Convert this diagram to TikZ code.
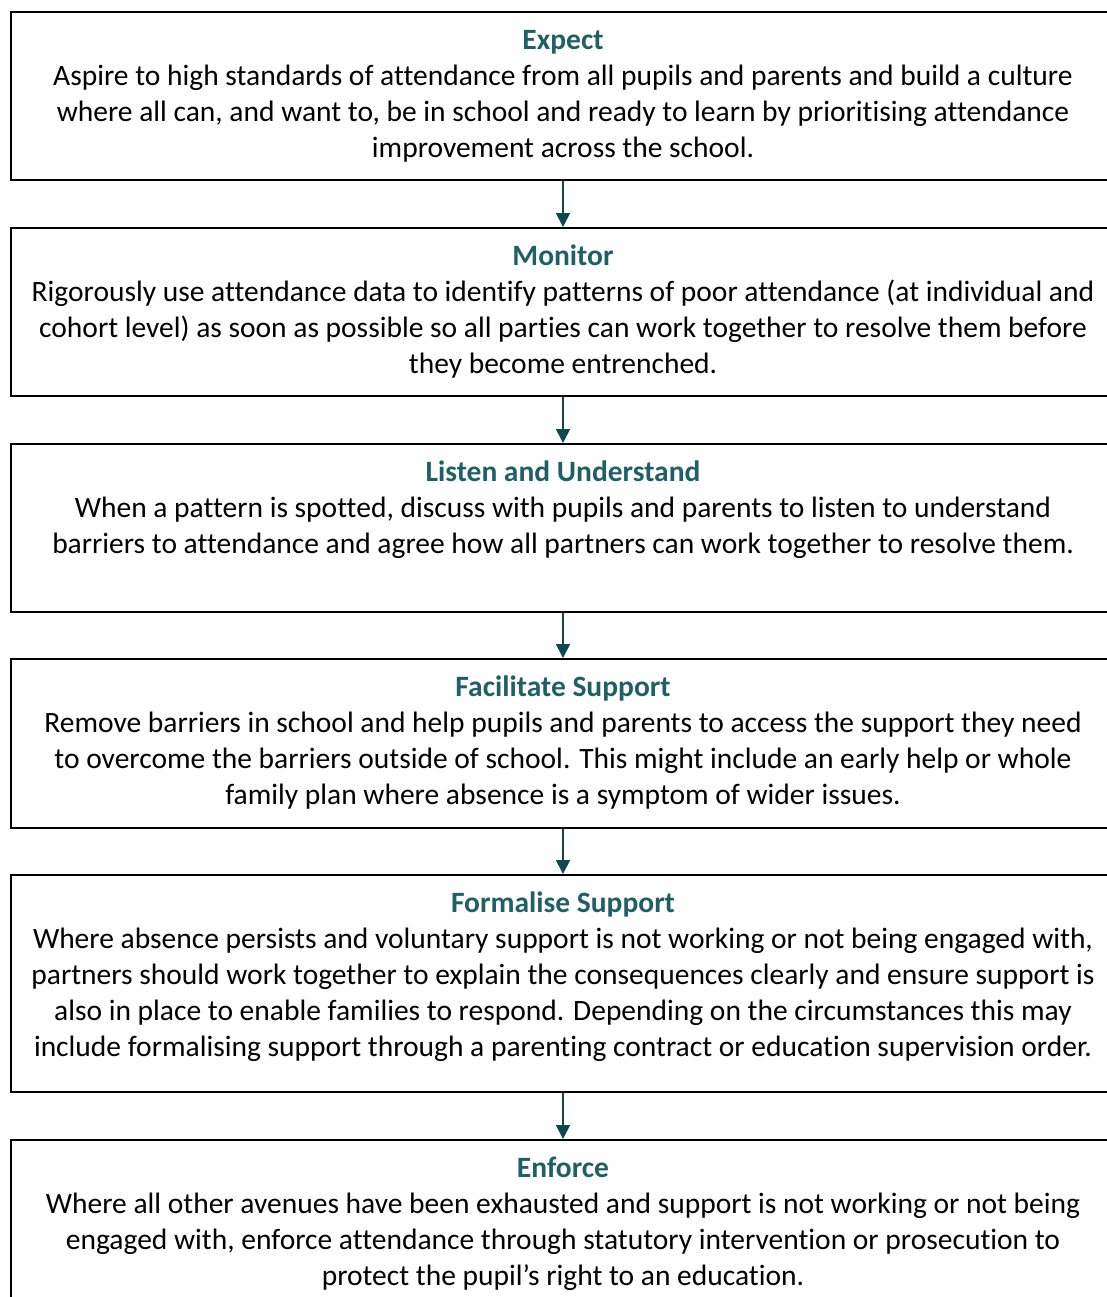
\documentclass[tikz,border=0pt]{standalone}
\usepackage{fontspec}
\setmainfont[Ligatures=NoCommon]{Carlito}
\usetikzlibrary{arrows.meta}
\definecolor{titleteal}{RGB}{31,95,102}
\definecolor{arrowteal}{RGB}{14,72,82}
\begin{document}
\begin{tikzpicture}[x=0.5pt,y=-0.5pt,
  stagebox/.style={draw=black,line width=1pt,rectangle,minimum width=552pt,inner sep=0pt,anchor=north},
  stagetext/.style={anchor=north,inner sep=0pt,align=center,font=\fontsize{14.75}{18}\selectfont},
  flowarrow/.style={draw=arrowteal,line width=0.8pt,-{Triangle[length=7pt,width=7pt]}}]
\useasboundingbox (0,0) rectangle (1107,1297);
\clip (0,0) rectangle (1107,1297);
\node[stagebox,minimum height=84pt] (b1) at (563,11) {};
\node[stagebox,minimum height=84pt] (b2) at (563,227) {};
\node[stagebox,minimum height=84pt] (b3) at (563,443) {};
\node[stagebox,minimum height=84.5pt] (b4) at (563,658) {};
\node[stagebox,minimum height=108.5pt] (b5) at (563,874) {};
\node[stagebox,minimum height=108.5pt] (b6) at (563,1139) {};
\node[stagetext] (t1) at ([yshift=-6.3pt]b1.north) {\strut{\bfseries\color{titleteal}Expect}\\
Aspire to high standards of attendance from all pupils and parents and build a culture\\
where all can, and want to, be in school and ready to learn by prioritising attendance\\
improvement across the school.};
\node[stagetext] (t2) at ([yshift=-6.3pt]b2.north) {\strut{\bfseries\color{titleteal}Monitor}\\
Rigorously use attendance data to identify patterns of poor attendance (at individual and\\
cohort level) as soon as possible so all parties can work together to resolve them before\\
they become entrenched.};
\node[stagetext] (t3) at ([yshift=-6.3pt]b3.north) {\strut{\bfseries\color{titleteal}Listen and Understand}\\
When a pattern is spotted, discuss with pupils and parents to listen to understand\\
barriers to attendance and agree how all partners can work together to resolve them.};
\node[stagetext] (t4) at ([yshift=-6.3pt]b4.north) {\strut{\bfseries\color{titleteal}Facilitate Support}\\
Remove barriers in school and help pupils and parents to access the support they need\\
to overcome the barriers outside of school. This might include an early help or whole\\
family plan where absence is a symptom of wider issues.};
\node[stagetext] (t5) at ([yshift=-6.3pt]b5.north) {\strut{\bfseries\color{titleteal}Formalise Support}\\
Where absence persists and voluntary support is not working or not being engaged with,\\
partners should work together to explain the consequences clearly and ensure support is\\
also in place to enable families to respond. Depending on the circumstances this may\\
include formalising support through a parenting contract or education supervision order.};
\node[stagetext] (t6) at ([yshift=-6.3pt]b6.north) {\strut{\bfseries\color{titleteal}Enforce}\\
Where all other avenues have been exhausted and support is not working or not being\\
engaged with, enforce attendance through statutory intervention or prosecution to\\
protect the pupil’s right to an education.};
\draw[flowarrow] (b1.south) -- (b2.north);
\draw[flowarrow] (b2.south) -- (b3.north);
\draw[flowarrow] (b3.south) -- (b4.north);
\draw[flowarrow] (b4.south) -- (b5.north);
\draw[flowarrow] (b5.south) -- (b6.north);
\end{tikzpicture}
\end{document}
